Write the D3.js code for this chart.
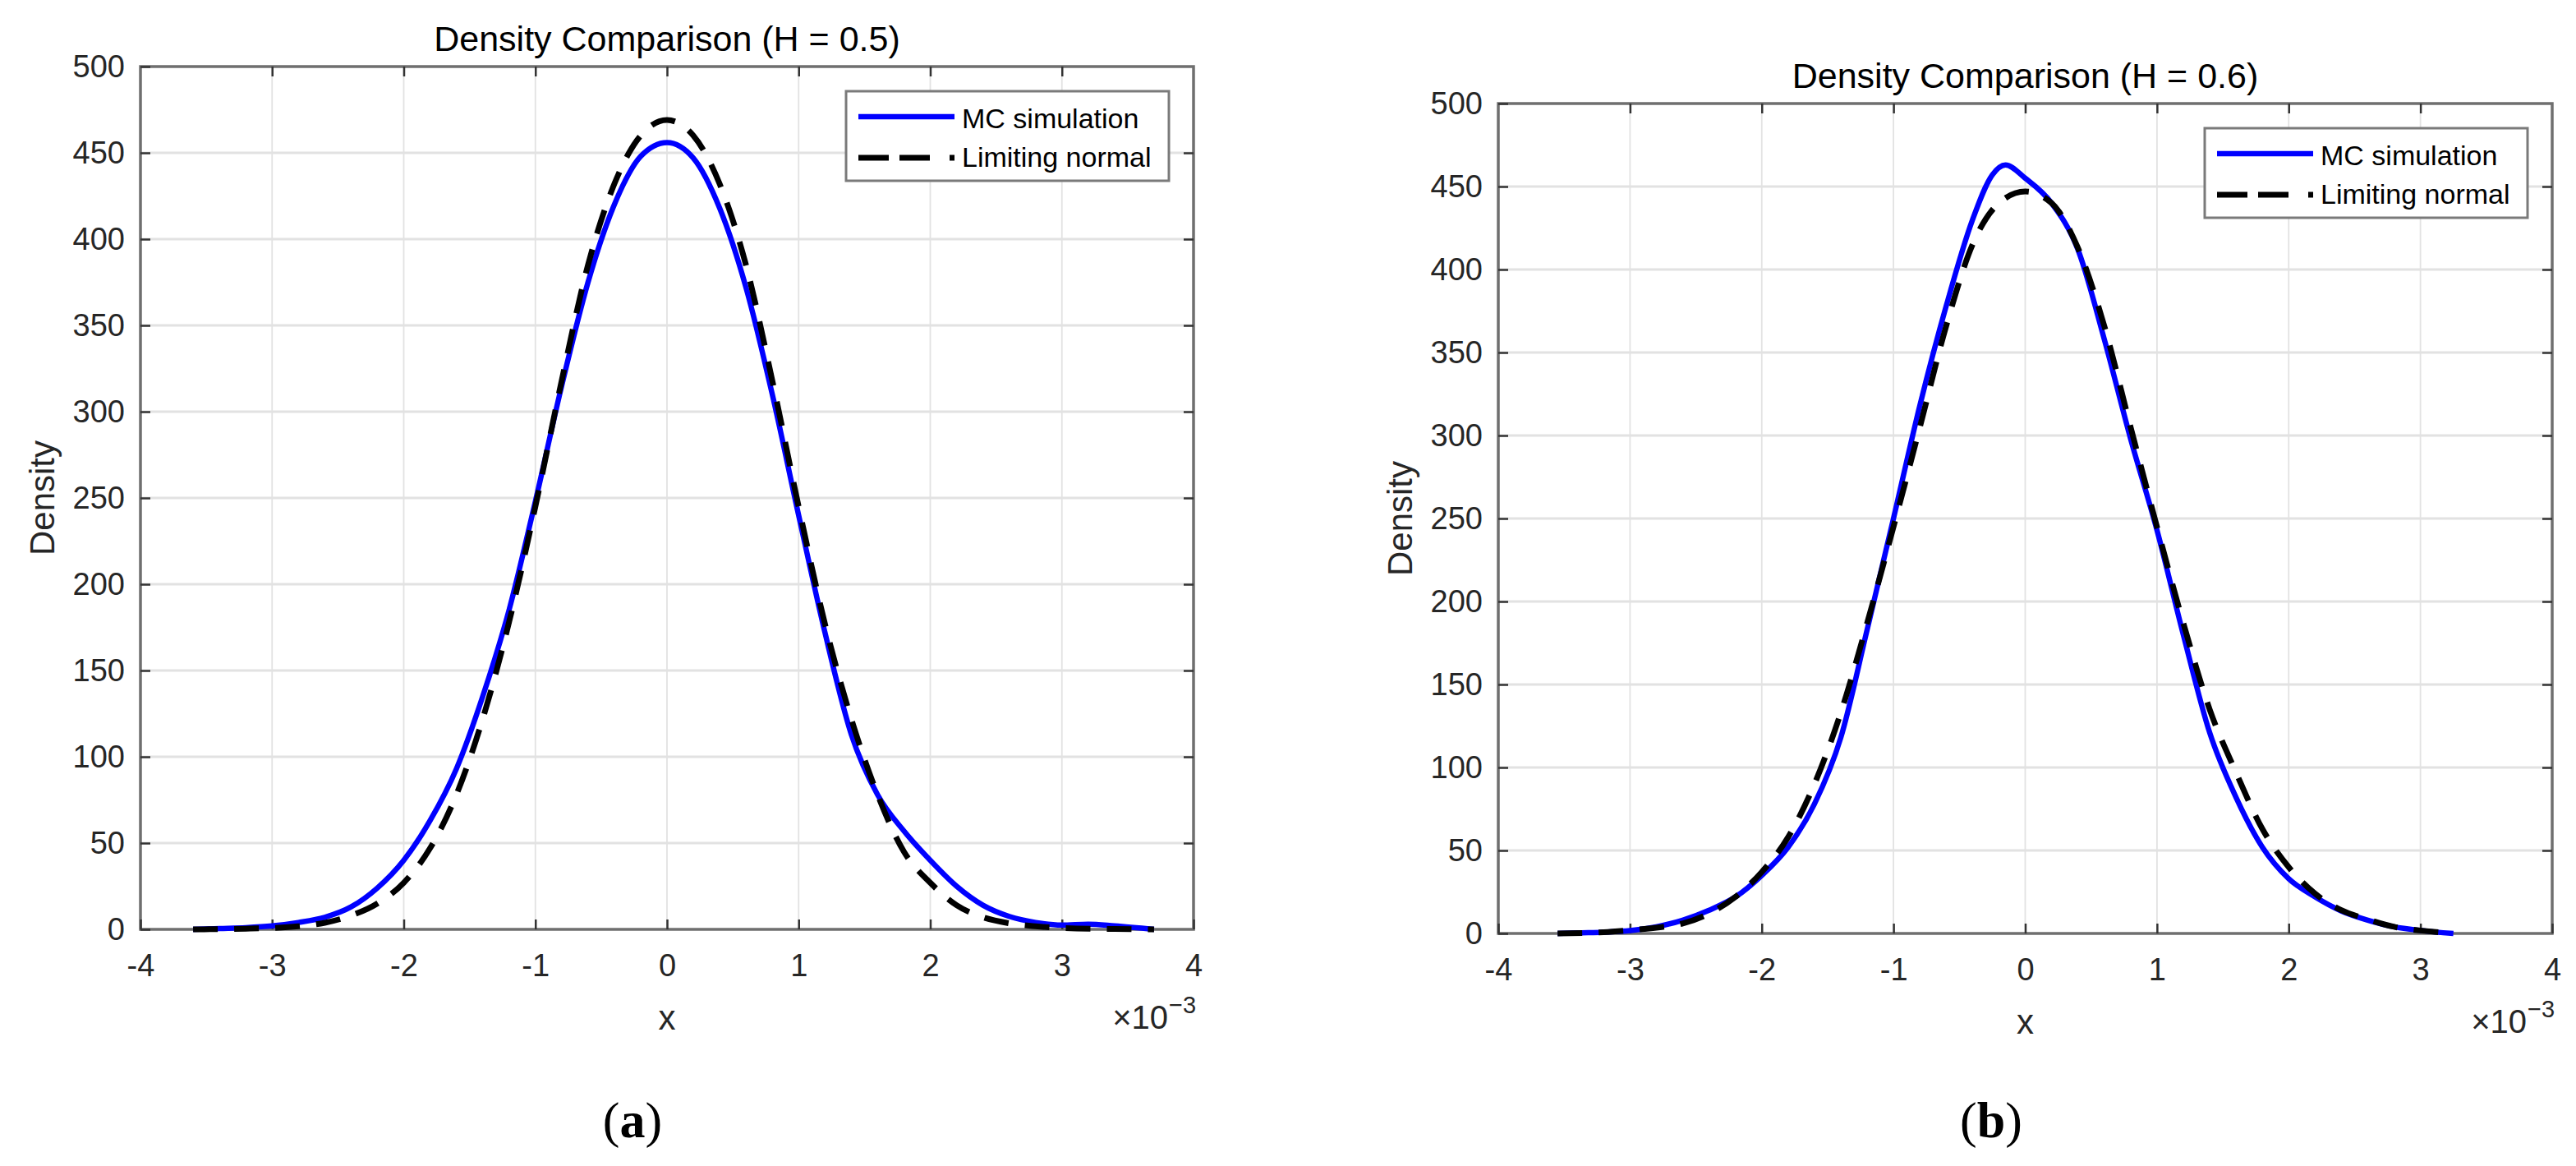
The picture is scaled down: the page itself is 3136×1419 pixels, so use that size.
<!DOCTYPE html>
<html>
<head>
<meta charset="utf-8">
<script src="https://cdn.jsdelivr.net/npm/d3@7/dist/d3.min.js"></script>
<style>
    body { margin: 0; background: #fff; }
    text { font-family: "Liberation Sans", Arial, Helvetica, sans-serif; }
</style>
</head>
<body>
<svg id="chart" width="3136" height="1419"></svg>
<script>
// =====================================================
// Density comparison: MC simulation vs limiting normal
// =====================================================

const xTickValues = [-4, -3, -2, -1, 0, 1, 2, 3, 4];
const yTickValues = [0, 50, 100, 150, 200, 250, 300, 350, 400, 450, 500];
const panelTitles = ['Density Comparison (H = 0.5)', 'Density Comparison (H = 0.6)'];
const panelTags = ['a', 'b'];
const seriesNames = ['MC simulation', 'Limiting normal'];

// panel (a), H = 0.5  (x in units of 1e-3)
const mcA_x = [-3.6, -3.4, -3.2, -3.0, -2.8, -2.6, -2.4, -2.2, -2.0, -1.8, -1.6, -1.4, -1.2, -1.0, -0.8, -0.6, -0.4, -0.2, 0, 0.2, 0.4, 0.6, 0.8, 1.0, 1.2, 1.4, 1.6, 1.8, 2.0, 2.2, 2.4, 2.6, 2.8, 3.0, 3.2, 3.4, 3.7];
const mcA_y = [0, 0.5, 1, 2, 4, 7, 13, 24, 40, 63, 93, 135, 185, 248, 315, 375, 420, 448, 456, 447, 418, 372, 310, 240, 172, 113, 78, 57, 40, 25, 14, 7.5, 4, 2.5, 3, 2, 0];

const normA_x = [-3.6, -3.2, -3.0, -2.8, -2.6, -2.4, -2.2, -2.0, -1.8, -1.6, -1.4, -1.2, -1.0, -0.8, -0.6, -0.4, -0.2, 0, 0.2, 0.4, 0.6, 0.8, 1.0, 1.2, 1.4, 1.6, 1.8, 2.0, 2.2, 2.4, 2.6, 2.8, 3.0, 3.4, 3.7];
const normA_y = [0, 0.4, 0.8, 1.8, 3.8, 8, 15, 27, 47, 78, 122, 178, 245, 318, 385, 432, 460, 469, 460, 432, 385, 318, 245, 177, 122, 78, 45, 27, 14, 7, 3.5, 1.8, 0.8, 0.2, 0];

// panel (b), H = 0.6
const mcB_x = [-3.55, -3.4, -3.2, -3.0, -2.8, -2.6, -2.4, -2.2, -2.0, -1.8, -1.6, -1.4, -1.2, -1.0, -0.8, -0.6, -0.4, -0.25, -0.15, 0, 0.2, 0.4, 0.6, 0.8, 1.0, 1.2, 1.4, 1.6, 1.8, 2.0, 2.2, 2.4, 2.6, 2.8, 3.0, 3.25];
const mcB_y = [0, 0.4, 0.8, 1.7, 4, 8, 14, 22, 35, 52, 78, 118, 183, 250, 318, 378, 430, 457, 463, 455, 440, 412, 358, 298, 243, 180, 121, 82, 52, 33, 22, 13.5, 8, 4, 1.8, 0];

const normB_x = [-3.55, -3.2, -3.0, -2.8, -2.6, -2.4, -2.2, -2.0, -1.8, -1.6, -1.4, -1.2, -1.0, -0.8, -0.6, -0.4, -0.2, 0, 0.2, 0.4, 0.6, 0.8, 1.0, 1.2, 1.4, 1.6, 1.8, 2.0, 2.2, 2.4, 2.6, 2.8, 3.0, 3.25];
const normB_y = [0, 0.8, 2, 3.5, 6, 12, 22, 37, 58, 90, 133, 187, 245, 305, 366, 415, 440, 447, 440, 413, 366, 305, 245, 187, 135, 97, 63, 40, 24, 14, 8.5, 4, 1.8, 0];

const svg = d3.select('#chart');
svg.append('rect').attr('width', 3136).attr('height', 1419).attr('fill', '#fff');

const panels = [
    { left: 171, top: 81, right: 1453, bottom: 1131, tagX: 770,
      title: panelTitles[0], tag: panelTags[0],
      mc: d3.zip(mcA_x, mcA_y), norm: d3.zip(normA_x, normA_y) },
    { left: 1824, top: 126, right: 3107, bottom: 1136, tagX: 2424,
      title: panelTitles[1], tag: panelTags[1],
      mc: d3.zip(mcB_x, mcB_y), norm: d3.zip(normB_x, normB_y) }
];

const textColor = '#262626';
const dashPattern = '30,20';

panels.forEach(p => drawPanel(p));

function drawPanel(p) {
    const g = svg.append('g');
    const x = d3.scaleLinear().domain([-4, 4]).range([p.left, p.right]);
    const y = d3.scaleLinear().domain([0, 500]).range([p.bottom, p.top]);
    const cx = (p.left + p.right) / 2;
    const cy = (p.top + p.bottom) / 2;

    // grid
    g.append('g').selectAll('line')
        .data(xTickValues.slice(1, -1))
        .enter().append('line')
        .attr('x1', d => x(d)).attr('x2', d => x(d))
        .attr('y1', p.top).attr('y2', p.bottom)
        .attr('stroke', '#e2e2e2').attr('stroke-width', 1.8);

    g.append('g').selectAll('line')
        .data(yTickValues.slice(1, -1))
        .enter().append('line')
        .attr('x1', p.left).attr('x2', p.right)
        .attr('y1', d => y(d)).attr('y2', d => y(d))
        .attr('stroke', '#e2e2e2').attr('stroke-width', 3);

    // box
    g.append('rect')
        .attr('x', p.left).attr('y', p.top)
        .attr('width', p.right - p.left).attr('height', p.bottom - p.top)
        .attr('fill', 'none').attr('stroke', '#6f6f6f').attr('stroke-width', 3.5);

    // axes (inward ticks)
    const styleAxis = sel => {
        sel.select('.domain').remove();
        sel.selectAll('.tick line').attr('stroke', '#333').attr('stroke-width', 2.5);
        sel.selectAll('.tick text')
            .attr('fill', textColor)
            .style('font-size', '38px')
            .style('font-family', '"Liberation Sans", Arial, sans-serif');
    };

    g.append('g')
        .attr('transform', `translate(${p.left},0)`)
        .call(d3.axisLeft(y).tickValues(yTickValues).tickSize(-12).tickPadding(19).tickFormat(d => String(d)))
        .call(styleAxis);

    g.append('g')
        .attr('transform', `translate(${p.right},0)`)
        .call(d3.axisRight(y).tickValues(yTickValues.slice(1, -1)).tickSize(-12).tickFormat(''))
        .call(styleAxis);

    g.append('g')
        .attr('transform', `translate(0,${p.bottom})`)
        .call(d3.axisBottom(x).tickValues(xTickValues).tickSize(-12).tickPadding(30).tickFormat(d => String(d)))
        .call(styleAxis);

    g.append('g')
        .attr('transform', `translate(0,${p.top})`)
        .call(d3.axisTop(x).tickValues(xTickValues.slice(1, -1)).tickSize(-12).tickFormat(''))
        .call(styleAxis);

    // curves
    const line = d3.line()
        .x(d => x(d[0]))
        .y(d => y(d[1]))
        .curve(d3.curveMonotoneX);

    g.append('path')
        .datum(p.mc)
        .attr('d', line)
        .attr('fill', 'none')
        .attr('stroke', '#0000ff')
        .attr('stroke-width', 6.5)
        .attr('stroke-linejoin', 'round');

    g.append('path')
        .datum(p.norm)
        .attr('d', line)
        .attr('fill', 'none')
        .attr('stroke', '#000')
        .attr('stroke-width', 7)
        .attr('stroke-dasharray', dashPattern);

    // title and labels
    g.append('text')
        .attr('x', cx).attr('y', p.top - 19)
        .attr('text-anchor', 'middle')
        .attr('fill', '#000')
        .style('font-size', '43px')
        .text(p.title);

    g.append('text')
        .attr('transform', `translate(${p.left - 120},${cy}) rotate(-90)`)
        .attr('text-anchor', 'middle')
        .attr('dominant-baseline', 'central')
        .attr('fill', textColor)
        .style('font-size', '42px')
        .text('Density');

    g.append('text')
        .attr('x', cx).attr('y', p.bottom + 107)
        .attr('text-anchor', 'middle')
        .attr('dominant-baseline', 'central')
        .attr('fill', textColor)
        .style('font-size', '42px')
        .text('x');

    // exponent label
    g.append('text')
        .attr('x', p.right - 31).attr('y', p.bottom + 121)
        .attr('text-anchor', 'end')
        .attr('fill', textColor)
        .style('font-size', '40px')
        .text('\u00d710');
    g.append('text')
        .attr('x', p.right - 30).attr('y', p.bottom + 102)
        .attr('fill', textColor)
        .style('font-size', '29px')
        .text('\u22123');

    // legend
    const lx = p.right - 423;
    const ly = p.top + 30;
    const legend = g.append('g');
    legend.append('rect')
        .attr('x', lx).attr('y', ly)
        .attr('width', 393).attr('height', 109)
        .attr('fill', '#fff')
        .attr('stroke', '#7a7a7a').attr('stroke-width', 3);

    legend.append('line')
        .attr('x1', lx + 15).attr('x2', lx + 132)
        .attr('y1', ly + 31).attr('y2', ly + 31)
        .attr('stroke', '#0000ff').attr('stroke-width', 6.5);

    legend.append('line')
        .attr('x1', lx + 15).attr('x2', lx + 132)
        .attr('y1', ly + 81).attr('y2', ly + 81)
        .attr('stroke', '#000').attr('stroke-width', 7)
        .attr('stroke-dasharray', '37,13,37,24,7,100');

    seriesNames.forEach((name, i) => {
        legend.append('text')
            .attr('x', lx + 141).attr('y', ly + 45 + i * 47)
            .attr('fill', '#000')
            .style('font-size', '34px')
            .text(name);
    });

    // subfigure tag
    const tag = svg.append('text')
        .attr('x', p.tagX).attr('y', 1363)
        .attr('text-anchor', 'middle')
        .attr('dominant-baseline', 'central')
        .attr('fill', '#000')
        .style('font-family', '"Liberation Serif", "DejaVu Serif", serif')
        .style('font-size', '62px');
    tag.append('tspan').text('(');
    tag.append('tspan').style('font-weight', 'bold').text(p.tag);
    tag.append('tspan').text(')');
}
</script>
</body>
</html>
